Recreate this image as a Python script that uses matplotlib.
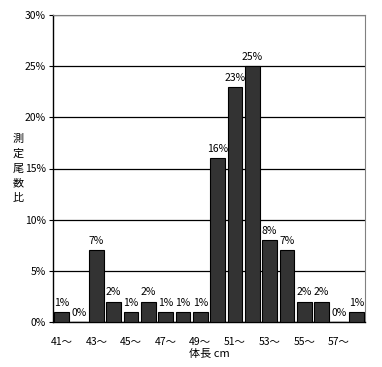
import matplotlib
matplotlib.use('Agg')
import matplotlib.pyplot as plt

plt.rcParams['font.family'] = ['Noto Sans CJK JP', 'DejaVu Sans']

lengths = [41, 42, 43, 44, 45, 46, 47, 48, 49, 50, 51, 52, 53, 54, 55, 56, 57, 58]
percents = [1, 0, 7, 2, 1, 2, 1, 1, 1, 16, 23, 25, 8, 7, 2, 2, 0, 1]
y_ticks = [0, 5, 10, 15, 20, 25, 30]

fig = plt.figure(figsize=(3.82, 3.67), dpi=100)
ax = fig.add_axes([53 / 382, 1 - 322 / 367, 312 / 382, 307 / 367])

x = list(range(len(lengths)))
ax.bar(x, percents, width=0.84, color='#333333', edgecolor='black', linewidth=0.8, zorder=3)
for xi, p in zip(x, percents):
  ax.text(xi, p + 0.4, '%d%%' % p, ha='center', va='bottom', fontsize=7.5)

ax.set_xlim(-0.5, len(lengths) - 0.5)
ax.set_ylim(0, 30)
ax.set_yticks(y_ticks)
ax.set_yticklabels(['%d%%' % v for v in y_ticks], fontsize=7.5)
ax.set_xticks(x[::2])
ax.set_xticklabels(['%d～' % v for v in lengths[::2]], fontsize=7.5)
ax.tick_params(axis='x', length=0, pad=11)
ax.tick_params(axis='y', length=3, width=0.8, pad=2)
ax.yaxis.grid(True, color='black', linewidth=0.9, zorder=0)

for side in ['top', 'right']:
  ax.spines[side].set_color('#808080')
ax.spines['left'].set_linewidth(1)
ax.spines['bottom'].set_linewidth(1)

ax.set_xlabel('体長 cm', fontsize=8, labelpad=1)
ax.set_ylabel('測\n定\n尾\n数\n比', fontsize=8, rotation=0, va='center', ha='center', linespacing=1.6)
ax.yaxis.set_label_coords(-0.112, 0.50)

fig.savefig('out.png', dpi=100)
